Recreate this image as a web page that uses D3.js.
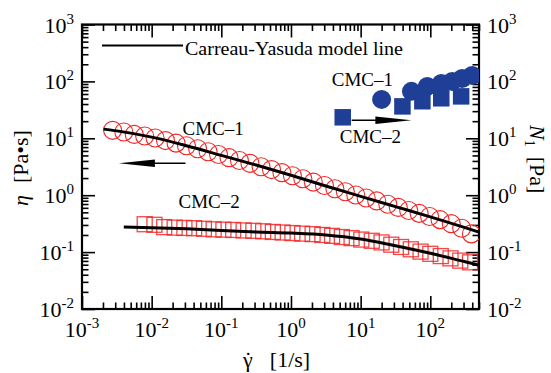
<!DOCTYPE html>
<html><head><meta charset="utf-8">
<script src="https://cdn.jsdelivr.net/npm/d3@7"></script>
<style>
body{margin:0;background:#fff}
svg{display:block}
</style>
</head><body>
<svg id="c" width="551" height="373" font-family="'Liberation Serif', 'Times New Roman', Times, serif"></svg>
<script>
// ---- data ----
const cmc1Rate = [0.00275,0.00398,0.00562,0.00794,0.0112,0.0158,0.0224,0.0316,0.0457,0.0646,0.0912,0.129,0.182,0.257,0.372,0.525,0.741,1.05,1.48,2.09,3.02,4.27,6.03,8.51,12.0,17.0,24.5,34.7,49.0,69.2,97.7,138,200,282,389];
const cmc1Eta  = [13.8,12.9,11.7,11.0,10.1,9.12,8.22,7.41,6.55,5.82,5.18,4.57,4.07,3.63,3.16,2.82,2.49,2.20,1.95,1.70,1.48,1.30,1.15,1.01,0.891,0.794,0.692,0.610,0.537,0.479,0.422,0.372,0.316,0.263,0.209];

const cmc2Rate = [0.00794,0.01096,0.01514,0.02138,0.02951,0.04074,0.05623,0.07762,0.1072,0.1479,0.2089,0.2884,0.3981,0.5495,0.7586,1.047,1.445,2.042,2.818,3.890,5.370,7.413,10.23,14.45,19.95,27.54,38.02,52.48,72.44,100,141.3,195.0,269.2,371.5];
const cmc2Eta  = [0.309,0.302,0.275,0.269,0.266,0.263,0.257,0.251,0.248,0.245,0.240,0.237,0.232,0.226,0.221,0.216,0.211,0.207,0.200,0.193,0.184,0.176,0.166,0.158,0.148,0.135,0.123,0.112,0.102,0.0933,0.0851,0.0776,0.0708,0.0661];

const fit1Rate = [0.00204,0.00316,0.01,0.0316,0.1,0.316,1,3.16,10,31.6,100,316,500];
const fit1Eta  = [14.5,13.5,10.5,7.41,5.01,3.39,2.24,1.45,0.955,0.631,0.417,0.269,0.224];
const fit2Rate = [0.00398,0.01,0.0316,0.1,0.316,1,3.16,10,31.6,100,316,500];
const fit2Eta  = [0.275,0.269,0.257,0.240,0.226,0.216,0.200,0.170,0.129,0.0955,0.0676,0.0589];

const n1Cmc1Rate = [20.0,53.6,90.6,143.6,206,286,398];
const n1Cmc1     = [48.3,66.8,81.7,92.1,100,112.8,127];
const n1Cmc2Rate = [5.53,39.8,76.9,143.6,277];
const n1Cmc2     = [23.4,36.4,44.8,50.5,54.6];

const xTickExps = [-3,-2,-1,0,1,2];
const yTickExps = [-2,-1,0,1,2,3];

// ---- layout ----
const FONT = "'Liberation Serif', 'Times New Roman', Times, serif";
const svg = d3.select("#c");
const L = 82, R = 479, T = 24.5, B = 309;
const x = d3.scaleLog().domain([1e-3, 500]).range([L, R]);
const y = d3.scaleLog().domain([1e-2, 1e3]).range([B, T]);
const yR = d3.scaleLog().domain([1e-2, 1e3]).range([B, T]);
const red = "#f02828", blue = "#1f3e96";

const xMinor = [], yMinor = [];
xTickExps.forEach(e => { for (let k = 2; k <= 9; k++) { const v = k * Math.pow(10, e); if (v <= 500) xMinor.push(v); } });
yTickExps.slice(0, -1).forEach(e => { for (let k = 2; k <= 9; k++) yMinor.push(k * Math.pow(10, e)); });
const xMajor = xTickExps.map(e => Math.pow(10, e));
const yMajor = yTickExps.map(e => Math.pow(10, e));

function tickAxis(axisFn, scale, vals, len, tr) {
  const g = svg.append("g").attr("transform", tr)
    .call(axisFn(scale).tickValues(vals).tickSize(-len).tickFormat(""));
  g.select(".domain").remove();
  g.selectAll(".tick line").attr("stroke", "#000").attr("stroke-width", 1.6);
}
tickAxis(d3.axisBottom, x, xMajor, 13, `translate(0,${B})`);
tickAxis(d3.axisBottom, x, xMinor, 6.5, `translate(0,${B})`);
tickAxis(d3.axisTop, x, xMajor, 13, `translate(0,${T})`);
tickAxis(d3.axisTop, x, xMinor, 6.5, `translate(0,${T})`);
tickAxis(d3.axisLeft, y, yMajor, 13, `translate(${L},0)`);
tickAxis(d3.axisLeft, y, yMinor, 6.5, `translate(${L},0)`);
tickAxis(d3.axisRight, yR, yMajor, 13, `translate(${R},0)`);
tickAxis(d3.axisRight, yR, yMinor, 6.5, `translate(${R},0)`);

svg.append("rect").attr("x", L).attr("y", T).attr("width", R - L).attr("height", B - T)
  .attr("fill", "none").attr("stroke", "#000").attr("stroke-width", 2.2);

function txt(xx, yy, size) {
  return svg.append("text").attr("x", xx).attr("y", yy).attr("font-size", size)
    .attr("font-family", FONT).attr("fill", "#000");
}
function powLabel(sel, e) {
  sel.append("tspan").text("10");
  sel.append("tspan").attr("dy", -9).attr("font-size", 15).text(String(e));
}
xTickExps.forEach(e => {
  powLabel(txt(x(Math.pow(10, e)), 337, 22).attr("text-anchor", "middle"), e);
});
yTickExps.forEach(e => {
  powLabel(txt(74, y(Math.pow(10, e)) + 8, 22).attr("text-anchor", "end"), e);
  powLabel(txt(487, yR(Math.pow(10, e)) + 8, 22).attr("text-anchor", "start"), e);
});

// axis titles
const yt = txt(0, 0, 22).attr("transform", "translate(28,168) rotate(-90)").attr("text-anchor", "middle");
yt.append("tspan").attr("font-style", "italic").text("η");
yt.append("tspan").attr("dx", 12).text("[Pa•s]");

const yt2 = txt(0, 0, 22).attr("transform", "translate(530,125) rotate(90)");
yt2.append("tspan").attr("font-style", "italic").text("N");
yt2.append("tspan").attr("font-size", 14).attr("dy", 5).text("1");
yt2.append("tspan").attr("dy", -5).attr("dx", 10).text("[Pa]");

const xt = txt(243, 367, 22);
xt.append("tspan").text("γ");
xt.append("tspan").attr("dx", -8.2).text("˙");
xt.append("tspan").attr("dx", 18).text("[1/s]");

svg.append("clipPath").attr("id", "clip").append("rect")
  .attr("x", L).attr("y", T).attr("width", R - L).attr("height", B - T);
const plot = svg.append("g").attr("clip-path", "url(#clip)");

plot.append("g").selectAll("circle").data(cmc1Rate).join("circle")
  .attr("cx", d => x(d)).attr("cy", (d, i) => y(cmc1Eta[i])).attr("r", 9)
  .attr("fill", "none").attr("stroke", red).attr("stroke-width", 1.1);
const sq = 15;
plot.append("g").selectAll("rect").data(cmc2Rate).join("rect")
  .attr("x", d => x(d) - sq / 2).attr("y", (d, i) => y(cmc2Eta[i]) - sq / 2)
  .attr("width", sq).attr("height", sq)
  .attr("fill", "none").attr("stroke", red).attr("stroke-opacity", 0.85).attr("stroke-width", 1.3);

const line = d3.line().x(d => x(d[0])).y(d => y(d[1])).curve(d3.curveMonotoneX);
plot.append("path").datum(fit1Rate.map((r, i) => [r, fit1Eta[i]])).attr("d", line)
  .attr("fill", "none").attr("stroke", "#000").attr("stroke-width", 3);
plot.append("path").datum(fit2Rate.map((r, i) => [r, fit2Eta[i]])).attr("d", line)
  .attr("fill", "none").attr("stroke", "#000").attr("stroke-width", 3);

plot.append("g").selectAll("circle").data(n1Cmc1Rate).join("circle")
  .attr("cx", d => x(d)).attr("cy", (d, i) => yR(n1Cmc1[i])).attr("r", 9.5).attr("fill", blue);
const bs = 16.5;
plot.append("g").selectAll("rect").data(n1Cmc2Rate).join("rect")
  .attr("x", d => x(d) - bs / 2).attr("y", (d, i) => yR(n1Cmc2[i]) - bs / 2)
  .attr("width", bs).attr("height", bs).attr("fill", blue);

function arrow(x0, x1, yy) {
  const px0 = x(x0), px1 = x(x1), py = y(yy);
  const dir = Math.sign(px1 - px0);
  svg.append("line").attr("x1", px0).attr("y1", py).attr("x2", px1 - dir * 20).attr("y2", py)
    .attr("stroke", "#000").attr("stroke-width", 1.6);
  svg.append("path").attr("d", `M${px1},${py} L${px1 - dir * 36},${py - 3.8} L${px1 - dir * 36},${py + 3.8} Z`)
    .attr("fill", "#000");
}
arrow(0.0306, 0.00338, 3.64);
arrow(7.43, 53.5, 20.7);

function label(rate, val, t) { txt(x(rate), y(val), 19).text(t); }
label(0.0277, 11.3, "CMC–1");
label(0.0243, 0.591, "CMC–2");
label(3.85, 81.7, "CMC–1");
label(5.01, 8.17, "CMC–2");

svg.append("line").attr("x1", 102).attr("x2", 183).attr("y1", 45.5).attr("y2", 45.5)
  .attr("stroke", "#000").attr("stroke-width", 2);
txt(185, 55, 19.5).attr("textLength", 218).attr("lengthAdjust", "spacingAndGlyphs")
  .text("Carreau-Yasuda model line");
</script>
</body></html>
